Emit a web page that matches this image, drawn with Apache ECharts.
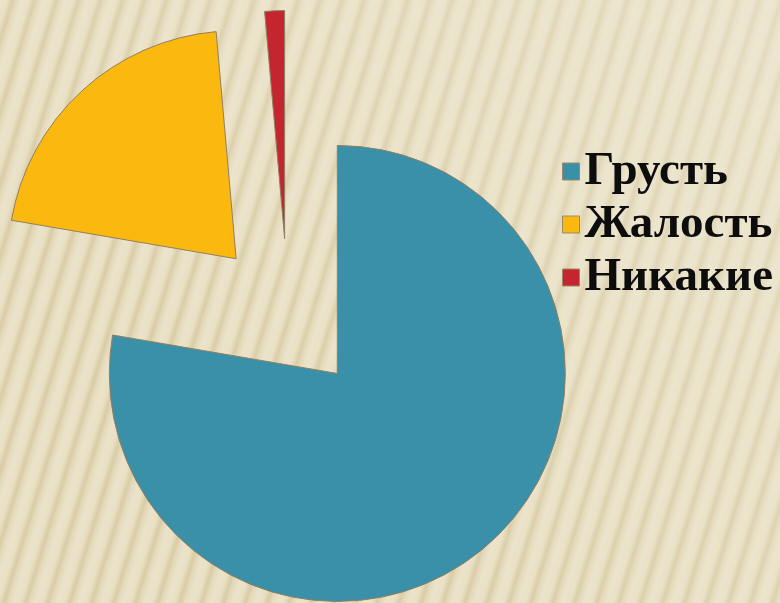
<!DOCTYPE html>
<html>
<head>
<meta charset="utf-8">
<script src="https://cdn.jsdelivr.net/npm/echarts@6/dist/echarts.min.js"></script>
<style>
  html, body { margin: 0; padding: 0; }
  body {
    width: 780px; height: 603px; overflow: hidden;
    background:
      linear-gradient(225deg, rgba(240,236,220,0.45) 0%, rgba(240,236,220,0.15) 45%, rgba(240,236,220,0) 70%),
      repeating-linear-gradient(107deg, #ebe3c9 0px, #e9e0c4 7px, #d9cca5 12px, #e4dabc 16px, #ebe3c9 21px);
  }
  #chart { width: 780px; height: 603px; }
</style>
</head>
<body>
<div id="chart"></div>
<script>
const categories = ['Грусть', 'Жалость', 'Никакие'];
const values = [77.7, 20.9, 1.4];
const colors = ['#3a90a8', '#fbb80f', '#c4252e'];

const chart = echarts.init(document.getElementById('chart'), null, { renderer: 'canvas' });
chart.setOption({
  backgroundColor: 'transparent',
  animation: false,
  color: colors,
  legend: {
    orient: 'vertical',
    left: 557,
    top: 140,
    itemWidth: 17,
    itemHeight: 17,
    itemGap: 0,
    itemTextGap: 7,
    icon: 'rect',
    selectedMode: false,
    itemStyle: { borderColor: '#9a8a6a', borderWidth: 1 },
    textStyle: {
      fontFamily: '"Liberation Serif", "DejaVu Serif", serif',
      fontWeight: 'bold',
      fontSize: 47,
      lineHeight: 53,
      color: '#0d0d0d'
    },
    data: categories
  },
  series: [{
    type: 'pie',
    center: [288, 315],
    radius: 228,
    startAngle: 90,
    clockwise: true,
    selectedMode: 'multiple',
    selectedOffset: 76.5,
    label: { show: false },
    labelLine: { show: false },
    emphasis: { disabled: true },
    itemStyle: { borderColor: '#8f7f60', borderWidth: 1 },
    data: categories.map((c, i) => ({ name: c, value: values[i], selected: true }))
  }]
});
</script>
</body>
</html>
